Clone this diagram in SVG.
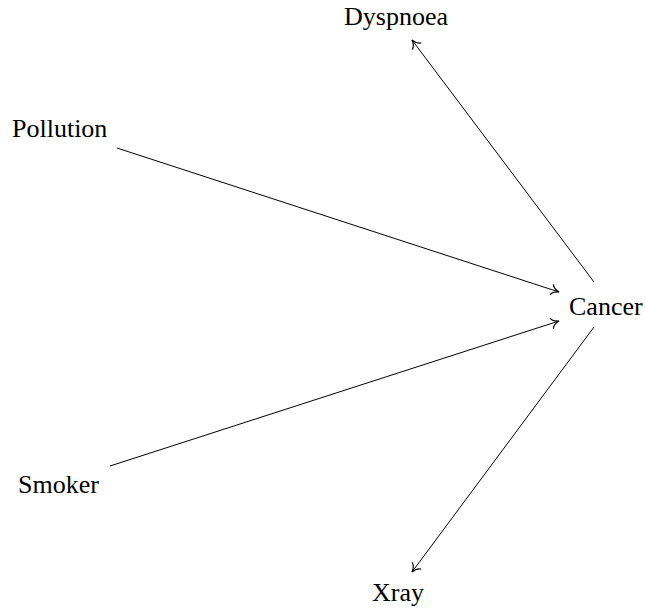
<svg xmlns="http://www.w3.org/2000/svg" width="645" height="612" viewBox="0 0 645 612">
  <style>
    text { font-family: 'Liberation Serif', 'Times New Roman', Times, serif; font-size: 26px; fill: #000; }
    .edge { stroke: #000; stroke-width: 1; fill: none; marker-end: url(#to); }
  </style>
  <defs>
    <marker id="to" markerUnits="userSpaceOnUse" markerWidth="14" markerHeight="14" viewBox="-8 -6 10 12" refX="0" refY="0" orient="auto">
      <path d="M -6.5,-4.5 C -5.5,-2 -2,-0.5 0,0 C -2,0.5 -5.5,2 -6.5,4.5" fill="none" stroke="#000" stroke-width="1" stroke-linecap="round"/>
    </marker>
  </defs>
  <rect width="645" height="612" fill="#fff"/>
  <g id="connectors">
    <line class="edge" x1="117" y1="148" x2="559" y2="292"/>
    <line class="edge" x1="110" y1="466" x2="559" y2="321"/>
    <line class="edge" x1="594" y1="282" x2="412" y2="40"/>
    <line class="edge" x1="594" y1="327" x2="412" y2="572"/>
  </g>
  <g id="dyspnoea"><text x="344" y="25" font-family="Liberation Serif, serif">Dyspnoea</text></g>
  <g id="pollution"><text x="12" y="137">Pollution</text></g>
  <g id="cancer"><text x="569" y="315">Cancer</text></g>
  <g id="smoker"><text x="18" y="493">Smoker</text></g>
  <g id="xray"><text x="372" y="601">Xray</text></g>
</svg>
